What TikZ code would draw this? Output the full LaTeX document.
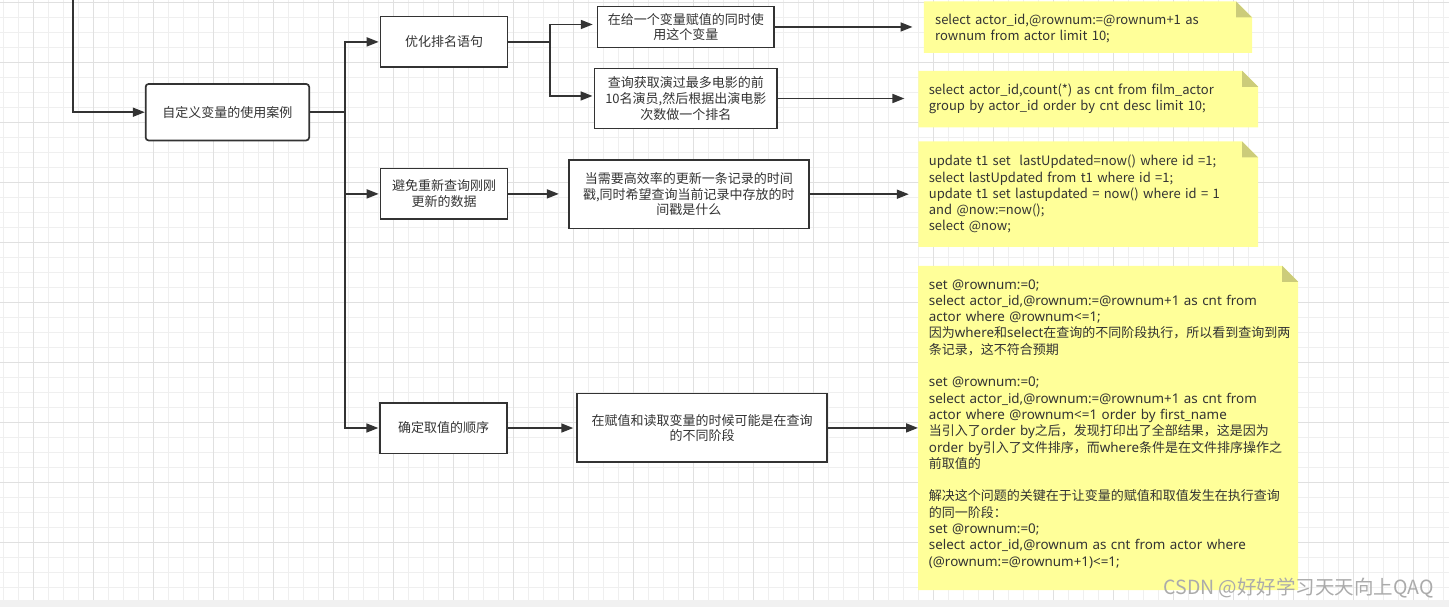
\documentclass[tikz,border=0pt]{standalone}
\usepackage{fontspec}
\setmainfont{Noto Sans CJK SC}
\newfontfamily\cjk{Noto Sans CJK SC}
\newfontfamily\lat{Noto Sans}
\usetikzlibrary{arrows.meta,calc}
\definecolor{ln}{HTML}{333333}
\definecolor{notefill}{HTML}{FFFF99}
\definecolor{foldc}{RGB}{204,204,122}
\definecolor{gminor}{HTML}{EFEFEF}
\definecolor{gmajor}{HTML}{E0E0E0}
\definecolor{band}{HTML}{F1F1F1}
\definecolor{wmc}{HTML}{ABABAB}
\newcommand\zh[1]{{\cjk\fontsize{13}{16.3}\selectfont #1}}
\newcommand\notebg[1]{%
  \fill[notefill] (#1.north west) -- ($(#1.north east)+(-16,0)$) -- ($(#1.north east)+(0,16)$) -- (#1.south east) -- (#1.south west) -- cycle;
  \fill[foldc] ($(#1.north east)+(-16,0)$) -- ($(#1.north east)+(-16,16)$) -- ($(#1.north east)+(0,16)$) -- cycle;}
\begin{document}
\begin{tikzpicture}[x=1pt,y=-1pt,
  box/.style={draw=ln,line width=1.7pt,fill=white,text=ln,align=center,inner sep=0pt,font=\fontsize{13}{15.7}\selectfont},
  arr/.style={draw=ln,line width=1.7pt,-{Triangle[length=12pt,width=9pt]}},
  link/.style={draw=ln,line width=1.7pt},
  noteshape/.style={inner sep=0pt,draw=none},
  notetext/.style={anchor=north west,inner sep=0pt,text width=400pt,align=left,text=ln},
]
\useasboundingbox (0,0) rectangle (1449,607);
% background grid
\fill[white] (0,0) rectangle (1449,607);
\foreach \i in {0,...,96} {\draw[gminor,line width=1pt] ({3.3+15*\i},0) -- ({3.3+15*\i},600);}
\foreach \j in {0,...,39} {\draw[gminor,line width=1pt] (0,{2.3+15*\j}) -- (1449,{2.3+15*\j});}
\foreach \i in {0,...,23} {\draw[gmajor,line width=1pt] ({33.3+60*\i},0) -- ({33.3+60*\i},600);}
\foreach \j in {0,...,9} {\draw[gmajor,line width=1pt] (0,{2.3+60*\j}) -- (1449,{2.3+60*\j});}
\fill[band] (0,600) rectangle (1449,607);

% boxes
\node[box,minimum width=163.5pt,minimum height=56.5pt,rounded corners=3pt] (n0) at (227.4,112.2) {自定义变量的使用案例};
\node[box,minimum width=127pt,minimum height=50.7pt] (n1) at (444,41.9) {优化排名语句};
\node[box,minimum width=127pt,minimum height=50.7pt] (n2) at (444,193.9) {避免重新查询刚刚\\更新的数据};
\node[box,minimum width=127pt,minimum height=50.7pt] (n3) at (443.7,428) {确定取值的顺序};
\node[box,minimum width=176.4pt,minimum height=41pt] (b1) at (685.8,27) {在给一个变量赋值的同时使\\用这个变量};
\node[box,minimum width=182.9pt,minimum height=60pt] (b2) at (685.8,98.5) {查询获取演过最多电影的前\\10名演员,然后根据出演电影\\次数做一个排名};
\node[box,minimum width=240.4pt,minimum height=68.7pt] (b3) at (688.9,194.2) {当需要高效率的更新一条记录的时间\\戳,同时希望查询当前记录中存放的时\\间戳是什么};
\node[box,minimum width=250.2pt,minimum height=68.7pt] (b4) at (702.2,427.9) {在赋值和读取变量的时候可能是在查询\\的不同阶段};

% notes
\node[noteshape,minimum width=328pt,minimum height=51pt] (N1) at (1088,27.2) {};
\node[noteshape,minimum width=339.4pt,minimum height=56.3pt] (N2) at (1088.3,99.15) {};
\node[noteshape,minimum width=339.4pt,minimum height=105pt] (N3) at (1088.3,194.2) {};
\node[noteshape,minimum width=379.8pt,minimum height=324pt] (N4) at (1108.1,428) {};
\notebg{N1}
\notebg{N2}
\notebg{N3}
\notebg{N4}

\node[notetext,font=\fontsize{13}{15}\selectfont] (N1t) at (935,14) {\strut select actor\_id,@rownum:=@rownum+1 as\\rownum from actor limit 10;};
\node[notetext,font=\fontsize{13}{16}\selectfont] (N2t) at (928.7,83.3) {\strut select actor\_id,count(*) as cnt from film\_actor\\group by actor\_id order by cnt desc limit 10;};
\node[notetext,font=\fontsize{13}{16.3}\selectfont] (N3t) at (928.7,154.1) {\strut update t1 set~ lastUpdated=now() where id =1;\\select lastUpdated from t1 where id =1;\\update t1 set lastupdated = now() where id = 1\\and @now:=now();\\select @now;};
\node[notetext,font=\lat\fontsize{13.4}{16.3}\selectfont] (N4t) at (928.7,277.4) {\strut set @rownum:=0;\\
select actor\_id,@rownum:=@rownum+1 as cnt from\\
actor where @rownum<=1;\\
\zh{因为}where\zh{和}select\zh{在查询的不同阶段执行，所以看到查询到两}\\
\zh{条记录，这不符合预期}\\
\mbox{}\\
set @rownum:=0;\\
select actor\_id,@rownum:=@rownum+1 as cnt from\\
actor where @rownum<=1 order by first\_name\\
\zh{当引入了}order by\zh{之后，发现打印出了全部结果，这是因为}\\
order by\zh{引入了文件排序，而}where\zh{条件是在文件排序操作之}\\
\zh{前取值的}\\
\mbox{}\\
\zh{解决这个问题的关键在于让变量的赋值和取值发生在执行查询}\\
\zh{的同一阶段：}\\
set @rownum:=0;\\
select actor\_id,@rownum as cnt from actor where\\
(@rownum:=@rownum+1)<=1;};

% connectors
\coordinate (top) at (72.7,0);
\coordinate (trunk) at (345.2,112.2);
\coordinate (split) at (550,41.9);
\draw[arr] (top) |- (n0.west);
\draw[link] (n0.east) -- (trunk);
\draw[arr,shorten >=1pt] (trunk) |- (n1.west);
\draw[arr,shorten >=1pt] (trunk) |- (n2.west);
\draw[arr,shorten >=1pt] (trunk) |- (n3.west);
\draw[link] (n1.east) -- (split);
\draw[arr,shorten >=4pt] (split) |- ([yshift=2.5pt]b1.west);
\draw[arr,shorten >=1pt] (split) |- ([yshift=2.5pt]b2.west);
\draw[arr,shorten >=9pt] (n2.east) -- (n2.east -| b3.west);
\draw[arr,shorten >=3pt] (n3.east) -- (n3.east -| b4.west);
\draw[arr,shorten >=11.3pt] (b1.east) -- (b1.east -| N1.west);
\draw[arr,shorten >=14pt] (b2.east) -- (b2.east -| N2.west);
\draw[arr,shorten >=9.6pt] (b3.east) -- (b3.east -| N3.west);
\draw[arr] (b4.east) -- (b4.east -| N4.west);

% watermark
\node[text=wmc,inner sep=0pt,anchor=east,font=\cjk\fontsize{19.5}{20}\selectfont] (wm) at (1434,588) {CSDN @好好学习天天向上QAQ};
\end{tikzpicture}
\end{document}
